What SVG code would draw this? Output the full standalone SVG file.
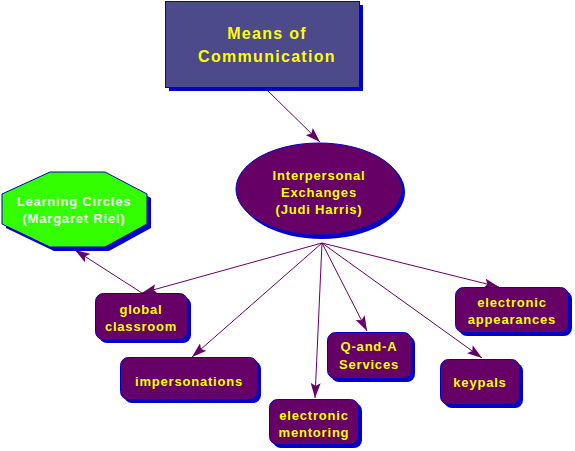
<svg xmlns="http://www.w3.org/2000/svg" width="575" height="451" viewBox="0 0 575 451">
<defs>
<style>
.box{fill:#660066;stroke:#0000CC;stroke-width:1}
.sh{fill:#0000CC}
.t{font-family:"Liberation Sans",Arial,sans-serif;font-weight:bold;font-size:13px;letter-spacing:0.8px;fill:#FFFF00;text-anchor:middle}
.big{font-size:16px;letter-spacing:1.3px}
.c{stroke:#660066;stroke-width:1;fill:none;marker-end:url(#ah)}
</style>
<marker id="ah" viewBox="0 0 15 10" refX="15" refY="5" markerWidth="15" markerHeight="10" markerUnits="userSpaceOnUse" orient="auto">
<path d="M0,0 L15,5 L0,10 L3,5 Z" fill="#660066"/>
</marker>
</defs>
<rect width="575" height="451" fill="#FFFFFF"/>
<g id="connectors">
<line class="c" x1="268" y1="91" x2="320" y2="142"/>
<line class="c" x1="322" y1="243" x2="142" y2="293"/>
<line class="c" x1="142" y1="293" x2="75" y2="250"/>
<line class="c" x1="322" y1="243" x2="192" y2="357"/>
<line class="c" x1="322" y1="243" x2="315" y2="398"/>
<line class="c" x1="322" y1="243" x2="367" y2="331"/>
<line class="c" x1="322" y1="243" x2="482" y2="358"/>
<line class="c" x1="322" y1="243" x2="499" y2="287"/>
</g>
<g id="means">
<rect class="sh" x="169" y="5" width="194" height="86"/>
<rect x="165.5" y="1.5" width="194" height="86" fill="#4D4A8C" stroke="#0000CC"/>
<text class="t big" x="267" y="39">Means of</text>
<text class="t big" x="267" y="62">Communication</text>
</g>
<g id="interpersonal">
<ellipse class="sh" cx="322" cy="192" rx="83" ry="47"/>
<ellipse class="box" cx="319" cy="189" rx="83" ry="46"/>
<text class="t" x="319" y="180">Interpersonal</text>
<text class="t" x="319" y="197">Exchanges</text>
<text class="t" x="319" y="214">(Judi Harris)</text>
</g>
<g id="learning">
<polygon class="sh" points="54,176 109,176 151,198 151,228 109,251 54,251 6,228 6,198"/>
<polygon points="50,172 105,172 147,194 147,224 105,247 50,247 2,224 2,194" fill="#33FF00" stroke="#0000CC"/>
<text class="t" style="fill:#F0F0F0" x="74" y="206">Learning Circles</text>
<text class="t" style="fill:#F0F0F0" x="74" y="223">(Margaret Riel)</text>
</g>
<g id="global">
<rect class="sh" x="99" y="297" width="92" height="46" rx="8"/>
<rect class="box" x="95.5" y="293.5" width="92" height="46" rx="8"/>
<text class="t" x="141" y="314">global</text>
<text class="t" x="141" y="331">classroom</text>
</g>
<g id="appearances">
<rect class="sh" x="459" y="291" width="113" height="45" rx="8"/>
<rect class="box" x="455.5" y="287.5" width="113" height="45" rx="8"/>
<text class="t" x="512" y="307">electronic</text>
<text class="t" x="512" y="324">appearances</text>
</g>
<g id="impersonations">
<rect class="sh" x="124" y="361" width="137" height="42" rx="8"/>
<rect class="box" x="120.5" y="357.5" width="137" height="42" rx="8"/>
<text class="t" x="189" y="386">impersonations</text>
</g>
<g id="qanda">
<rect class="sh" x="331" y="336" width="84" height="46" rx="8"/>
<rect class="box" x="327.5" y="332.5" width="84" height="46" rx="8"/>
<text class="t" x="369" y="351">Q-and-A</text>
<text class="t" x="369" y="369">Services</text>
</g>
<g id="mentoring">
<rect class="sh" x="273" y="403" width="89" height="45" rx="8"/>
<rect class="box" x="269.5" y="399.5" width="89" height="45" rx="8"/>
<text class="t" x="314" y="420">electronic</text>
<text class="t" x="314" y="437">mentoring</text>
</g>
<g id="keypals">
<rect class="sh" x="444" y="363" width="79" height="45" rx="8"/>
<rect class="box" x="440.5" y="359.5" width="79" height="45" rx="8"/>
<text class="t" x="480" y="387">keypals</text>
</g>
</svg>
